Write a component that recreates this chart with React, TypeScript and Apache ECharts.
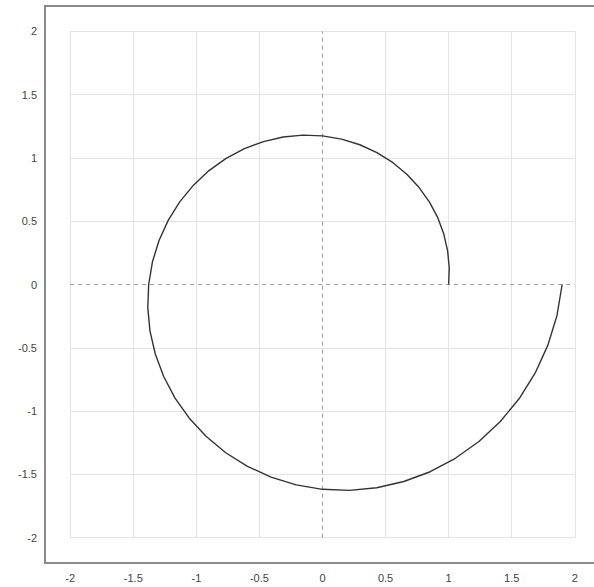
import React, { useEffect, useRef } from "react";
import * as echarts from "echarts";

const tickValues = [-2, -1.5, -1, -0.5, 0, 0.5, 1, 1.5, 2];
const gridValues = [-2, -1.5, -1, -0.5, 0.5, 1, 1.5, 2];

// Spiral points (counter-clockwise from (1,0) to (1.9,0))
const spiralX = [
  1, 1.0048, 0.992, 0.9617, 0.914, 0.8483, 0.766, 0.6685, 0.556, 0.4316, 0.296, 0.1512,
  0, -0.1553, -0.312, -0.4677, -0.619, -0.7642, -0.9, -1.0229, -1.132, -1.2235, -1.296, -1.3485,
  -1.378, -1.3851, -1.368, -1.3257, -1.259, -1.1692, -1.056, -0.9215, -0.767, -0.595, -0.408, -0.2084,
  0, 0.2141, 0.43, 0.6447, 0.854, 1.0534, 1.24, 1.4099, 1.56, 1.6864, 1.787, 1.8589, 1.9,
];
const spiralY = [
  0, 0.1323, 0.266, 0.3983, 0.528, 0.6509, 0.766, 0.8712, 0.964, 1.042, 1.104, 1.1486,
  1.174, 1.1797, 1.165, 1.1291, 1.073, 0.9959, 0.9, 0.7849, 0.653, 0.5068, 0.347, 0.1775,
  0, -0.1824, -0.366, -0.5491, -0.727, -0.8971, -1.056, -1.2009, -1.329, -1.4365, -1.522, -1.5832,
  -1.618, -1.6261, -1.606, -1.5564, -1.479, -1.3728, -1.24, -1.0819, -0.901, -0.6985, -0.479, -0.2447, 0,
];

export default function App() {
  const ref = useRef<HTMLDivElement>(null);
  useEffect(() => {
    const chart = echarts.init(ref.current!, null, { renderer: "svg" });
    const vLines = gridValues.map((v) => [{ coord: [v, -2] }, { coord: [v, 2] }]);
    const hLines = gridValues.map((v) => [{ coord: [-2, v] }, { coord: [2, v] }]);
    const zeroLines = [
      [{ coord: [-2, 0] }, { coord: [2, 0] }],
      [{ coord: [0, -2] }, { coord: [0, 2] }],
    ];
    const labelStyle = {
      color: "#444",
      fontSize: 11,
      fontFamily: "Liberation Sans, Arial, sans-serif",
    };
    chart.setOption({
      animation: false,
      backgroundColor: "#fff",
      grid: {
        left: 45,
        top: 6,
        width: 555,
        height: 557,
        show: true,
        borderColor: "#8a8a8a",
        borderWidth: 2,
        backgroundColor: "transparent",
        outerBoundsMode: "none",
        containLabel: false,
      },
      xAxis: {
        type: "value",
        min: -2.2,
        max: 2.2,
        axisLine: { show: true, onZero: false, lineStyle: { color: "#8a8a8a", width: 2 } },
        axisTick: { show: false },
        splitLine: { show: false },
        axisLabel: { ...labelStyle, margin: 9, customValues: tickValues, showMinLabel: true, showMaxLabel: true },
      },
      yAxis: {
        type: "value",
        min: -2.2,
        max: 2.2,
        axisLine: { show: true, onZero: false, lineStyle: { color: "#8a8a8a", width: 2 } },
        axisTick: { show: false },
        splitLine: { show: false },
        axisLabel: { ...labelStyle, margin: 8, customValues: tickValues },
      },
      series: [
        {
          type: "line",
          data: [],
          silent: true,
          z: 1,
          markLine: {
            silent: true,
            z: 1,
            symbol: "none",
            label: { show: false },
            lineStyle: { color: "#e3e3e3", width: 1, type: "solid" },
            data: [...vLines, ...hLines],
          },
        },
        {
          type: "line",
          data: [],
          silent: true,
          z: 2,
          markLine: {
            silent: true,
            z: 2,
            symbol: "none",
            label: { show: false },
            lineStyle: { color: "#9a9a9a", width: 1, type: [4, 4] },
            data: zeroLines,
          },
        },
        {
          type: "line",
          z: 10,
          data: spiralX.map((x, i) => [x, spiralY[i]]),
          smooth: false,
          showSymbol: false,
          symbol: "none",
          lineStyle: { color: "#333", width: 1.4 },
        },
      ],
    });
    return () => chart.dispose();
  }, []);
  return (
    <div
      ref={ref}
      style={{ position: "absolute", left: 0, top: 0, width: 594, height: 587 }}
    />
  );
}
